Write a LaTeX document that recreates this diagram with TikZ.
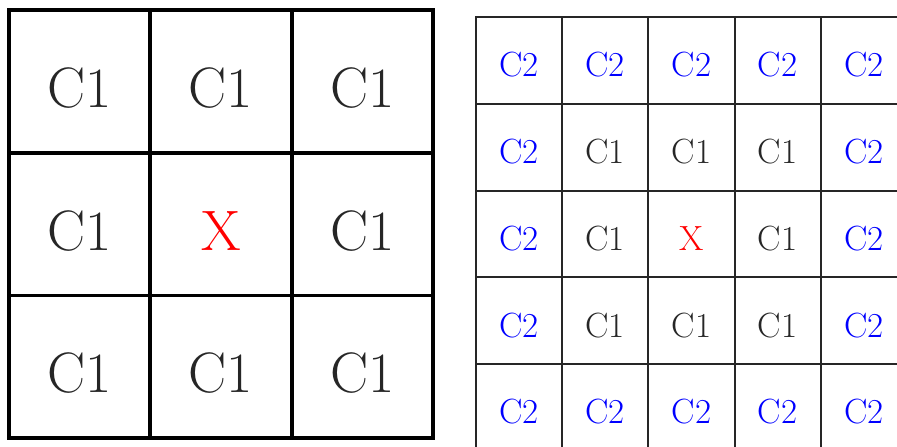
\documentclass[tikz,border=0pt]{standalone}
\begin{document}
\begin{tikzpicture}[x=1pt,y=-1pt,
  bigcell/.style={draw=black,line width=3.8pt,minimum width=141.3pt,minimum height=142.7pt,inner sep=0pt,outer sep=0pt,font=\fontsize{57}{60}\selectfont,text=black!85,text height=52pt,text depth=0pt},
  smallcell/.style={draw=black!85,line width=2pt,minimum width=86.2pt,minimum height=86.75pt,inner sep=0pt,outer sep=0pt,font=\fontsize{35}{38}\selectfont,text height=33pt,text depth=0pt},
  cone/.style={text=black!85},
  ctwo/.style={text=blue},
  xmark/.style={text=red}]
\useasboundingbox (0,0) rectangle (897,447);
\clip (0,0) rectangle (897,447);
% left 3x3 grid
\foreach \i in {0,1,2}{
  \foreach \j in {0,1,2}{
    \pgfmathsetmacro{\cx}{9+141.3*(\j+0.5)}
    \pgfmathsetmacro{\cy}{10+142.7*(\i+0.5)}
    \pgfmathtruncatemacro{\mid}{(\i==1)&&(\j==1)}
    \ifnum\mid=1
      \node[bigcell,xmark] (L-\i-\j) at (\cx,\cy) {X};
    \else
      \node[bigcell] (L-\i-\j) at (\cx,\cy) {C1};
    \fi
  }
}
% right 5x5 grid
\foreach \i in {0,...,4}{
  \foreach \j in {0,...,4}{
    \pgfmathsetmacro{\cx}{476+86.2*(\j+0.5)}
    \pgfmathsetmacro{\cy}{17+86.75*(\i+0.5)}
    \pgfmathtruncatemacro{\outer}{(\i==0)||(\i==4)||(\j==0)||(\j==4)}
    \pgfmathtruncatemacro{\mid}{(\i==2)&&(\j==2)}
    \ifnum\outer=1
      \node[smallcell,ctwo] (R-\i-\j) at (\cx,\cy) {C2};
    \else\ifnum\mid=1
      \node[smallcell,xmark] (R-\i-\j) at (\cx,\cy) {X};
    \else
      \node[smallcell,cone] (R-\i-\j) at (\cx,\cy) {C1};
    \fi\fi
  }
}
\end{tikzpicture}
\end{document}
